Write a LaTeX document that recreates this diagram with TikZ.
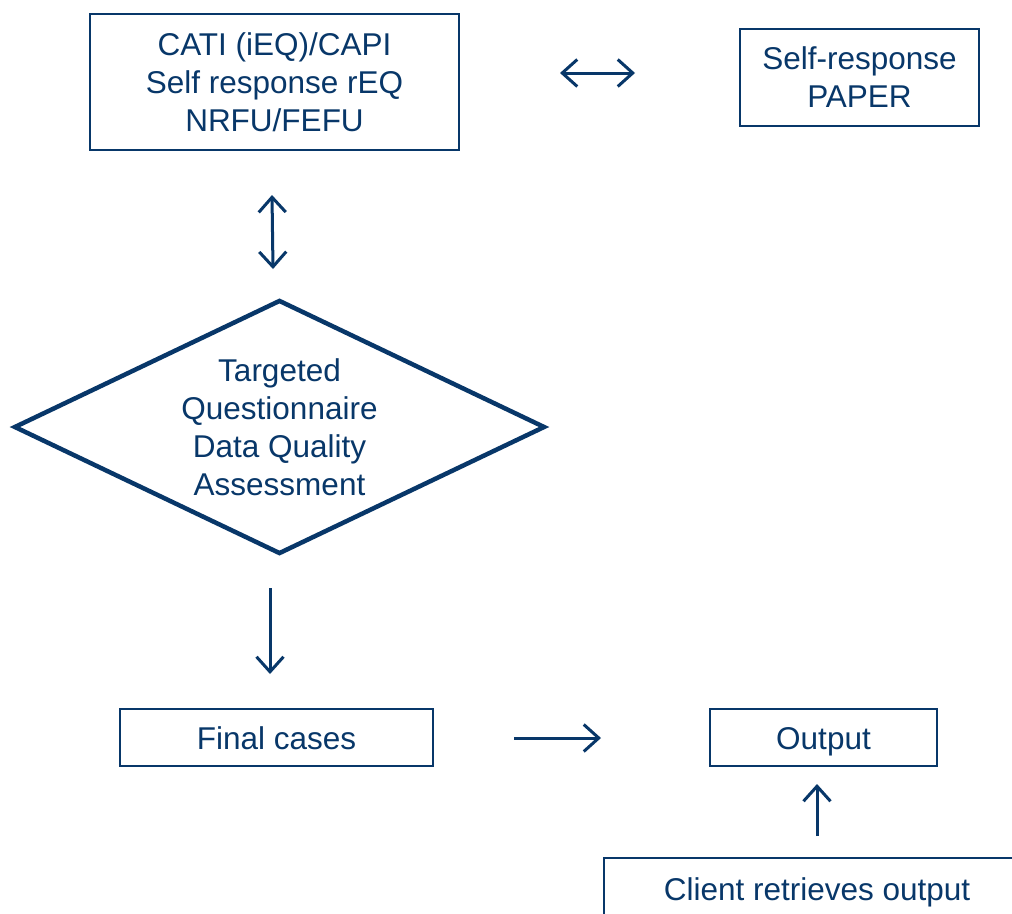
\documentclass[tikz,border=0pt]{standalone}
\usepackage{fontspec}
\setmainfont{Liberation Sans}
\usetikzlibrary{shapes.geometric,arrows.meta}
\definecolor{navy}{RGB}{8,55,105}
\begin{document}
\begin{tikzpicture}[x=1pt,y=-1pt,
  every node/.style={text=navy,font=\fontsize{31.5}{38}\selectfont,align=center},
  boxnode/.style={draw=navy,line width=2pt,inner sep=0pt},
  oneline/.style={text height=26pt,text depth=2pt},
  conn/.style={draw=navy,line width=3pt,-{Straight Barb[length=15pt,width=27pt,line width=3pt]}},
  dconn/.style={draw=navy,line width=3pt,{Straight Barb[length=15pt,width=27pt,line width=3pt]}-{Straight Barb[length=15pt,width=27pt,line width=3pt]}}]
\clip (0,0) rectangle (1012,913);
\fill[white] (0,0) rectangle (1012,913);
\node[boxnode,minimum width=369pt,minimum height=136pt] (modes) at (274.5,82) {CATI (iEQ)/CAPI\\Self response rEQ\\NRFU/FEFU};
\node[boxnode,minimum width=239pt,minimum height=97pt] (paper) at (859.5,77) {Self-response\\PAPER};
\node[draw=navy,line width=4.5pt,shape=diamond,aspect=2.09,inner sep=0pt,minimum width=531pt,minimum height=254pt] (dq) at (279.5,427) {Targeted\\Questionnaire\\Data Quality\\Assessment};
\node[boxnode,oneline,minimum width=313pt,minimum height=57pt] (final) at (276.5,737.5) {Final cases};
\node[boxnode,oneline,minimum width=227pt,minimum height=57pt] (output) at (823.5,737.5) {Output};
\node[boxnode,oneline,minimum width=426pt,minimum height=61pt] (client) at (817,888.5) {Client retrieves output};
\coordinate (h1) at (560,73);
\coordinate (h2) at (635,73);
\coordinate (v1) at (272,195);
\coordinate (v2) at (273,269);
\coordinate (d1) at (270,588);
\coordinate (d2) at (270,674);
\coordinate (r1) at (514,738);
\coordinate (r2) at (601,738);
\coordinate (u1) at (817,836);
\coordinate (u2) at (817,784);
\draw[dconn] (h1) -- (h2);
\draw[dconn] (v1) -- (v2);
\draw[conn] (d1) -- (d2);
\draw[conn] (r1) -- (r2);
\draw[conn] (u1) -- (u2);
\end{tikzpicture}
\end{document}
